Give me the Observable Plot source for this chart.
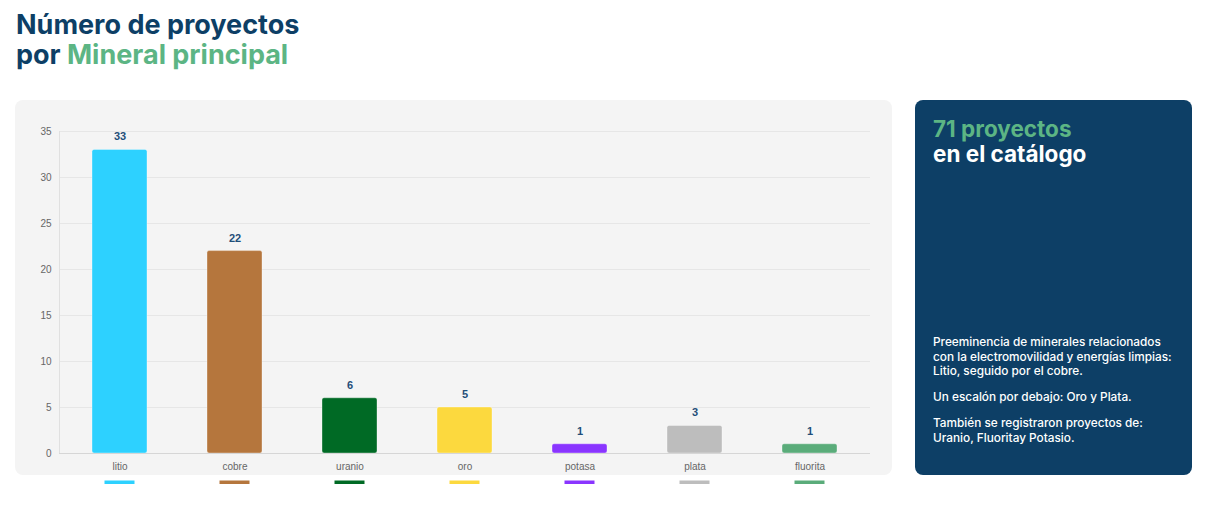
<!DOCTYPE html>
<html><head><meta charset="utf-8">
<script src="https://cdn.jsdelivr.net/npm/d3@7"></script>
<script src="https://cdn.jsdelivr.net/npm/@observablehq/plot@0.6"></script>
<style>
html,body{margin:0;padding:0;background:#fff;width:1214px;height:509px;overflow:hidden;font-family:Inter,"Noto Sans",sans-serif;}
#title{position:absolute;left:16px;top:10px;font-size:27px;font-weight:700;line-height:30px;color:#0d3f66;}
#title .g{color:#5cb584;}
#card{position:absolute;left:15px;top:100px;width:877px;height:375px;background:#f4f4f4;border-radius:8px;}
#chart{position:absolute;left:15px;top:100px;}
#panel{position:absolute;left:915px;top:100px;width:277px;height:375px;background:#0d3f66;border-radius:8px;color:#fff;box-sizing:border-box;padding:16px 18px;}
#panel .h{font-size:22.5px;font-weight:700;line-height:25px;}
#panel .h .g{color:#5cb584;}
#panel .body{position:absolute;left:18px;right:10px;top:235px;font-size:11.8px;line-height:14.5px;font-weight:500;}
#panel .body p{margin:0 0 11.5px 0;}
</style></head>
<body>
<div id="title">Número de proyectos<br>por <span class="g">Mineral principal</span></div>
<div id="card"></div>
<div id="chart"></div>
<div id="panel">
  <div class="h"><span class="g">71 proyectos</span><br>en el catálogo</div>
  <div class="body">
    <p>Preeminencia de minerales relacionados con la electromovilidad y energías limpias: Litio, seguido por el cobre.</p>
    <p>Un escalón por debajo: Oro y Plata.</p>
    <p>También se registraron proyectos de: Uranio, Fluoritay Potasio.</p>
  </div>
</div>
<script>
const minerals = ["litio","cobre","uranio","oro","potasa","plata","fluorita"];
const counts = [33,22,6,5,1,3,1];
const colors = ["#2dd1ff","#b5763d","#006a25","#fcd93e","#8a35ff","#bdbdbd","#5aac7a"];
const yTicks = [0,5,10,15,20,25,30,35];

const data = minerals.map((m,i)=>({mineral:m, count:counts[i], color:colors[i]}));

const chart = Plot.plot({
  width: 877,
  height: 384,
  marginLeft: 44,
  marginRight: 22,
  marginTop: 31,
  marginBottom: 31,
  style: {background:"transparent", fontFamily:"'Liberation Sans', Arial, sans-serif", fontSize:"10px", color:"#666"},
  x: {domain: minerals, paddingInner: 0.523, paddingOuter: 0.2615, align: 0.5, label: null},
  y: {domain: [0,35], ticks: yTicks, label: null},
  marks: [
    Plot.gridY(yTicks, {stroke:"#e6e6e6", strokeOpacity:1}),
    Plot.frame({anchor:"left", stroke:"#e0e0e0"}),
    Plot.axisY({ticks: yTicks, tickSize: 0, tickPadding: 8, fill:"#666", fontSize: 10}),
    Plot.axisX({tickSize: 0, tickPadding: 9, fill:"#666", fontSize: 10}),
    Plot.barY(data, {x:"mineral", y:"count", fill:"color", stroke:"#ffffff", strokeOpacity:0.35, strokeWidth:1, rx:2}),
    Plot.ruleY([0], {stroke:"#d6d6d6"}),
    Plot.text(data, {x:"mineral", y:"count", text: d=>String(d.count), dy:-13, fill:"#1f4e79", fontWeight:"bold", fontSize:11, fontFamily:"'Liberation Sans', Arial, sans-serif"}),
    Plot.tickY(data, {x:"mineral", y: ()=>0, stroke:"color", strokeWidth:10, dy:32, insetLeft:12.5, insetRight:12.5, strokeLinecap:"butt"})
  ]
});
document.getElementById("chart").appendChild(chart);
</script>
</body></html>
